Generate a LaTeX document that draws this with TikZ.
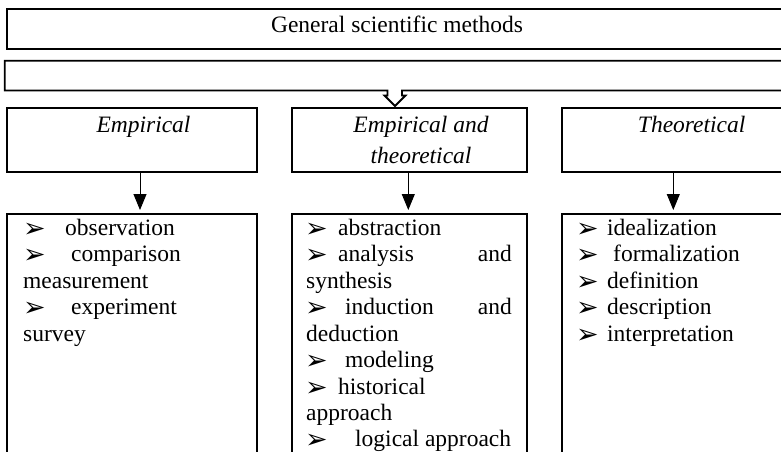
\documentclass[tikz,border=0pt]{standalone}
\usepackage{fontspec}
\setmainfont{Liberation Serif}
\newfontfamily\dejavu{DejaVu Sans}
\usetikzlibrary{arrows.meta}
\begin{document}
\begin{tikzpicture}[x=1pt,y=-1pt,
  box/.style={draw, line width=2pt, inner sep=0pt, outer sep=0pt, anchor=north west},
  txt/.style={anchor=base west, inner sep=0pt, font=\fontsize{23.5}{26.5}\selectfont},
  ctxt/.style={anchor=base, inner sep=0pt, font=\fontsize{23.5}{26.5}\selectfont},
  hdr/.style={anchor=base, inner sep=0pt, font=\fontsize{23.5}{26.5}\selectfont\itshape},
  bul/.style={anchor=base west, inner sep=0pt, yshift=-2pt, font=\dejavu\fontsize{27}{27}\selectfont},
  arr/.style={line width=1pt, -{Triangle[length=16pt,width=13pt]}, shorten >=4pt}]
\useasboundingbox (0,0) rectangle (781,452);
\fill[white] (0,0) rectangle (781,452);

% top box
\node[box, minimum width=800pt, minimum height=39.7pt] (top) at (7.3,9) {};
\node[ctxt] (toptxt) at (397,33) {General scientific methods};

% band with hollow arrow
\draw[line width=1.8pt, line join=miter, fill=white]
  (800,60.7) -- (4.7,60.7) -- (4.7,90.5) -- (387.5,90.5) -- (387.5,95.5) -- (384.5,95.5)
  -- (395,106) -- (405.5,95.5) -- (402,95.5) -- (402,90.5) -- (800,90.5);

% header boxes
\node[box, minimum width=249.4pt, minimum height=64.3pt] (emp) at (7.3,107.7) {};
\node[box, minimum width=235pt, minimum height=64.3pt] (empth) at (291.7,107.7) {};
\node[box, minimum width=250pt, minimum height=64.3pt] (th) at (561.7,107.7) {};
\node[hdr] (emptxt) at (143.5,132) {Empirical};
\node[hdr] (empthtxt1) at (421,132) {Empirical and};
\node[hdr] (empthtxt2) at (421,163.5) {theoretical};
\node[hdr] (thtxt) at (691.7,132) {Theoretical};

% list boxes
\node[box, minimum width=249.4pt, minimum height=260pt] (empl) at (7.3,214) {};
\node[box, minimum width=235pt, minimum height=260pt] (empthl) at (291.7,214) {};
\node[box, minimum width=250pt, minimum height=260pt] (thl) at (561.7,214) {};

% connectors
\coordinate (xa) at (140,0);
\coordinate (xb) at (408.3,0);
\coordinate (xc) at (673.3,0);
\draw[arr] (emp.south -| xa) -- (empl.north -| xa);
\draw[arr] (empth.south -| xb) -- (empthl.north -| xb);
\draw[arr] (th.south -| xc) -- (thl.north -| xc);

% left list
\node[bul] (b1) at (23,235) {➢};
\node[txt] (l1) at (65,235) {observation};
\node[bul] (b2) at (23,261.5) {➢};
\node[txt] (l2) at (71,261.5) {comparison};
\node[txt] (l3) at (23,288) {measurement};
\node[bul] (b4) at (23,314.5) {➢};
\node[txt] (l4) at (71,314.5) {experiment};
\node[txt] (l5) at (23,341) {survey};

% middle list
\node[bul] (m1b) at (305,235) {➢};
\node[txt] (m1) at (338,235) {abstraction};
\node[bul] (m2b) at (305,261.5) {➢};
\node[txt] (m2) at (338,261.5) {analysis};
\node[txt, anchor=base east] (m2a) at (512,261.5) {and};
\node[txt] (m3) at (306,288) {synthesis};
\node[bul] (m4b) at (305,314.5) {➢};
\node[txt] (m4) at (345,314.5) {induction};
\node[txt, anchor=base east] (m4a) at (512,314.5) {and};
\node[txt] (m5) at (306,341) {deduction};
\node[bul] (m6b) at (305,367.5) {➢};
\node[txt] (m6) at (345,367.5) {modeling};
\node[bul] (m7b) at (305,394) {➢};
\node[txt] (m7) at (338,394) {historical};
\node[txt] (m8) at (306,420.5) {approach};
\node[bul] (m9b) at (305,446) {➢};
\node[txt] (m9) at (355,446) {logical approach};

% right list
\node[bul] (r1b) at (576,235) {➢};
\node[txt] (r1) at (607,235) {idealization};
\node[bul] (r2b) at (576,261.5) {➢};
\node[txt] (r2) at (613,261.5) {formalization};
\node[bul] (r3b) at (576,288) {➢};
\node[txt] (r3) at (607,288) {definition};
\node[bul] (r4b) at (576,314.5) {➢};
\node[txt] (r4) at (607,314.5) {description};
\node[bul] (r5b) at (576,341) {➢};
\node[txt] (r5) at (607,341) {interpretation};
\end{tikzpicture}
\end{document}
